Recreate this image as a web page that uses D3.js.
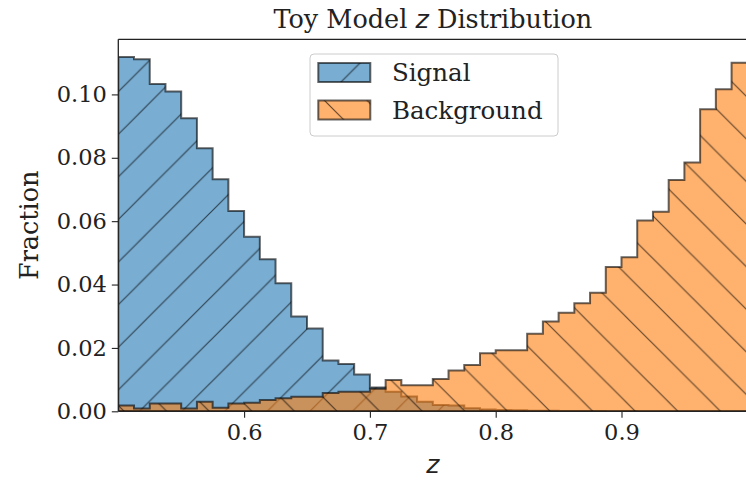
<!DOCTYPE html>
<html>
<head>
<meta charset="utf-8">
<script src="https://cdn.jsdelivr.net/npm/d3@7"></script>
<style>
  body { margin: 0; background: #fff; }
  svg { display: block; }
  text { fill: #222; }
</style>
</head>
<body>
<svg id="chart" width="746" height="480"></svg>
<script>
// Histogram binning: 40 equal bins spanning z in [0.5, 1.0]
const binStart = 0.5;
const binWidth = 0.0125;
const binCount = 40;

// Fraction of events per bin
const signalFrac = [
  0.1118, 0.1111, 0.1033, 0.1009, 0.0925, 0.0830, 0.0732, 0.0632, 0.0551, 0.0480,
  0.0404, 0.0299, 0.0261, 0.0160, 0.0149, 0.0116, 0.0075, 0.0062, 0.0047, 0.0030,
  0.0020, 0.0018, 0.0010, 0.0006, 0.0004, 0.0003, 0.0002, 0.0002, 0.0001, 0.0001,
  0.0001, 0.0000, 0.0001, 0.0000, 0.0000, 0.0000, 0.0000, 0.0000, 0.0000, 0.0000
];
const backgroundFrac = [
  0.0018, 0.0009, 0.0025, 0.0025, 0.0009, 0.0030, 0.0011, 0.0025, 0.0027, 0.0036,
  0.0041, 0.0046, 0.0046, 0.0058, 0.0062, 0.0062, 0.0071, 0.0099, 0.0082, 0.0082,
  0.0102, 0.0129, 0.0146, 0.0183, 0.0193, 0.0193, 0.0245, 0.0283, 0.0311, 0.0341,
  0.0374, 0.0455, 0.0486, 0.0602, 0.0630, 0.0730, 0.0785, 0.0953, 0.1016, 0.1100
];

const xTicks = [0.6, 0.7, 0.8, 0.9];
const yTicks = [0.00, 0.02, 0.04, 0.06, 0.08, 0.10];
const seriesNames = ["Signal", "Background"];

const SERIF = "'DejaVu Serif', serif";
const SANS = "'DejaVu Sans', sans-serif";

const binEdges = d3.range(binCount + 1).map(i => binStart + i * binWidth);

const svg = d3.select("#chart");
const margin = { left: 118.3, top: 39.3 };
const plotW = 629, plotH = 372;

const x = d3.scaleLinear().domain([0.5, 1.0]).range([margin.left, margin.left + plotW]);
const yMax = 1.05 * d3.max([...signalFrac, ...backgroundFrac]);
const y = d3.scaleLinear().domain([0, yMax]).range([margin.top + plotH, margin.top]);

const colors = { Signal: "#1f77b4", Background: "#ff7f0e" };

// Hatch patterns, anchored in page coordinates
const defs = svg.append("defs");
const P = 42.6;
function hatch(id, lines, offset) {
  const p = defs.append("pattern")
    .attr("id", id)
    .attr("patternUnits", "userSpaceOnUse")
    .attr("width", P).attr("height", P)
    .attr("patternTransform", `translate(${offset},0)`);
  lines.forEach(l => p.append("line")
    .attr("x1", l[0]).attr("y1", l[1]).attr("x2", l[2]).attr("y2", l[3])
    .attr("stroke", "#000").attr("stroke-opacity", 0.62).attr("stroke-width", 1.15));
}
// "/" hatch: lines x + y = const
hatch("hatch-fwd", [[-P, P, P, -P], [0, P, P, 0], [0, 2 * P, 2 * P, 0]], 39.6 - P);
// "\" hatch: lines y - x = const
hatch("hatch-back", [[-P, 0, P, 2 * P], [0, 0, P, P], [0, -P, 2 * P, P]], -31.6);

defs.append("clipPath").attr("id", "plot-clip")
  .append("rect").attr("x", margin.left).attr("y", margin.top)
  .attr("width", plotW).attr("height", plotH);

// Step outline of a filled histogram
function stepPoints(values) {
  const pts = [[binEdges[0], 0]];
  values.forEach((v, i) => { pts.push([binEdges[i], v]); pts.push([binEdges[i + 1], v]); });
  pts.push([binEdges[binCount], 0]);
  return pts;
}
const line = d3.line().x(d => x(d[0])).y(d => y(d[1]));

const plot = svg.append("g").attr("clip-path", "url(#plot-clip)");
[[signalFrac, "Signal", "hatch-fwd"], [backgroundFrac, "Background", "hatch-back"]].forEach(([vals, name, pat]) => {
  const d = line(stepPoints(vals)) + "Z";
  const g = plot.append("g");
  g.append("path").attr("d", d).attr("fill", colors[name]).attr("fill-opacity", 0.6);
  g.append("path").attr("d", d).attr("fill", `url(#${pat})`);
  g.append("path").attr("d", d).attr("fill", "none")
    .attr("stroke", "#000").attr("stroke-opacity", 0.6).attr("stroke-width", 2)
    .attr("stroke-linejoin", "miter");
});

// Axes
const xAxis = d3.axisBottom(x).tickValues(xTicks).tickFormat(d3.format(".1f")).tickSize(6.5).tickPadding(6);
const yAxis = d3.axisLeft(y).tickValues(yTicks).tickFormat(d3.format(".2f")).tickSize(6.5).tickPadding(5);

const gx = svg.append("g").attr("transform", `translate(0,${margin.top + plotH})`).call(xAxis);
const gy = svg.append("g").attr("transform", `translate(${margin.left},0)`).call(yAxis);
[gx, gy].forEach(g => {
  g.select(".domain").remove();
  g.selectAll(".tick line").attr("stroke", "#222").attr("stroke-width", 1.1);
  g.selectAll(".tick text").style("font-family", SERIF).style("font-size", "22.5px").attr("fill", "#222");
});

// Spines
const frame = svg.append("g").attr("fill", "none").attr("stroke", "#222").attr("stroke-width", 1.3);
frame.append("line").attr("x1", margin.left).attr("x2", margin.left).attr("y1", margin.top).attr("y2", margin.top + plotH);
frame.append("line").attr("x1", margin.left).attr("x2", margin.left + plotW).attr("y1", margin.top + plotH).attr("y2", margin.top + plotH);
frame.append("line").attr("x1", margin.left).attr("x2", margin.left + plotW).attr("y1", margin.top).attr("y2", margin.top);
frame.append("line").attr("x1", margin.left + plotW).attr("x2", margin.left + plotW).attr("y1", margin.top).attr("y2", margin.top + plotH);

// Title and axis labels
const cx = margin.left + plotW / 2;
const title = svg.append("text").attr("x", cx).attr("y", 28).attr("text-anchor", "middle")
  .style("font-family", SERIF).style("font-size", "25.5px");
title.append("tspan").text("Toy Model ");
title.append("tspan").style("font-family", SANS).style("font-style", "italic").text("z");
title.append("tspan").text(" Distribution");

svg.append("text").attr("x", cx).attr("y", 473).attr("text-anchor", "middle")
  .style("font-family", SANS).style("font-style", "italic").style("font-size", "25px").text("z");

svg.append("text").attr("transform", `translate(38,${margin.top + plotH / 2}) rotate(-90)`)
  .attr("text-anchor", "middle").style("font-family", SERIF).style("font-size", "25.5px").text("Fraction");

// Legend
const lg = svg.append("g").attr("transform", "translate(310,54)");
lg.append("rect").attr("x", 0).attr("y", 0).attr("width", 248).attr("height", 82).attr("rx", 4)
  .attr("fill", "#fff").attr("fill-opacity", 0.8).attr("stroke", "#ccc").attr("stroke-width", 1);
seriesNames.forEach((name, i) => {
  const yy = 9 + i * 37.5;
  const pat = i === 0 ? "hatch-fwd" : "hatch-back";
  // swatches sit in page coordinates so their hatching lines up with the plot's
  const sx = 318.3, sy = 54 + yy;
  const gsw = svg.append("g");
  gsw.append("rect").attr("x", sx).attr("y", sy).attr("width", 52).attr("height", 19)
    .attr("fill", colors[name]).attr("fill-opacity", 0.6);
  gsw.append("rect").attr("x", sx).attr("y", sy).attr("width", 52).attr("height", 19)
    .attr("fill", `url(#${pat})`);
  gsw.append("rect").attr("x", sx).attr("y", sy).attr("width", 52).attr("height", 19)
    .attr("fill", "none").attr("stroke", "#000").attr("stroke-opacity", 0.6).attr("stroke-width", 2);
  lg.append("text").attr("x", 82).attr("y", yy + 18).style("font-family", SERIF).style("font-size", "24.5px").text(name);
});
</script>
</body>
</html>
